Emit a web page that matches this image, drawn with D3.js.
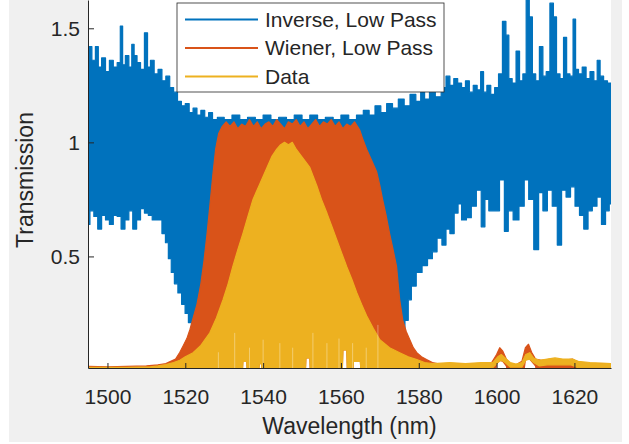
<!DOCTYPE html>
<html>
<head>
<meta charset="utf-8">
<script src="https://cdn.jsdelivr.net/npm/d3@7"></script>
<style>
  body { margin: 0; background: #fff; }
  text { font-family: "Liberation Sans", Arial, sans-serif; fill: #262626; }
</style>
</head>
<body>
<div id="chart"></div>
<script>
// ---- data (envelopes of the dense spectra) ----
let seriesNames = ["Inverse, Low Pass", "Wiener, Low Pass", "Data"];
let seriesColors = ["#0072BD", "#D95319", "#EDB120"];

let xTicks = [1500, 1520, 1540, 1560, 1580, 1600, 1620];
let yTicks = [0.5, 1, 1.5];

// Inverse, low pass: upper envelope
let invTopWl = [1495, 1495.5, 1496.5, 1497.3, 1498, 1499, 1500, 1501, 1502, 1503, 1503.6, 1504.2, 1505, 1506, 1506.5, 1507.2, 1508, 1509, 1510, 1510.6,
  1511.5, 1512.5, 1513.5, 1514.5, 1515.5, 1516.5, 1517.5, 1518.5, 1519.5, 1520.5, 1521.5, 1522.5, 1523.5, 1524.5, 1525.5, 1526.5, 1527.5, 1529, 1531, 1533,
  1535, 1537, 1539, 1541, 1543, 1545, 1547, 1549, 1551, 1553, 1555, 1557, 1559, 1561, 1563, 1565, 1566.5, 1568, 1569.5, 1571,
  1572.5, 1574, 1575.5, 1577, 1578.5, 1580, 1581, 1582, 1583.5, 1585, 1586.5, 1587.5, 1588.5, 1589.5, 1590.5, 1591.5, 1592.5, 1593.5, 1594.5, 1595.5,
  1596.3, 1597, 1598, 1599, 1600, 1601, 1602, 1602.8, 1603.5, 1604.5, 1605.5, 1606.3, 1607.2, 1608, 1608.8, 1609.6, 1610.5, 1611.5, 1612.3, 1613.2,
  1614.2, 1615, 1615.8, 1616.8, 1617.6, 1618.4, 1619.3, 1620, 1620.6, 1621.5, 1622.5, 1623.5, 1624.5, 1625.5, 1626.2, 1627, 1628, 1629, 1629.4];
let invTop = [1.25, 1.42, 1.36, 1.42, 1.33, 1.37, 1.31, 1.36, 1.33, 1.35, 1.51, 1.34, 1.38, 1.33, 1.43, 1.38, 1.35, 1.32, 1.48, 1.33,
  1.36, 1.30, 1.32, 1.27, 1.29, 1.24, 1.22, 1.18, 1.16, 1.17, 1.13, 1.15, 1.12, 1.14, 1.11, 1.13, 1.10, 1.11, 1.10, 1.12,
  1.10, 1.11, 1.10, 1.12, 1.10, 1.11, 1.10, 1.12, 1.10, 1.12, 1.10, 1.11, 1.10, 1.12, 1.10, 1.12, 1.14, 1.12, 1.16, 1.13,
  1.17, 1.15, 1.19, 1.16, 1.21, 1.18, 1.23, 1.19, 1.22, 1.20, 1.24, 1.29, 1.25, 1.28, 1.26, 1.24, 1.27, 1.22, 1.25, 1.23,
  1.31, 1.22, 1.25, 1.21, 1.24, 1.30, 1.53, 1.47, 1.28, 1.26, 1.40, 1.27, 1.30, 1.65, 1.55, 1.30, 1.27, 1.42, 1.29, 1.31,
  1.61, 1.55, 1.30, 1.28, 1.46, 1.30, 1.29, 1.54, 1.32, 1.30, 1.33, 1.28, 1.31, 1.27, 1.36, 1.29, 1.27, 1.26, 1.26];

// Inverse, low pass: lower envelope (the middle part lies hidden under the Wiener fill)
let invBotWl = [1495, 1496, 1497, 1498, 1499, 1500, 1501, 1502, 1503, 1504, 1505, 1506, 1507, 1508, 1509, 1510, 1511, 1512, 1513.5, 1514.5,
  1515.3, 1516, 1516.8, 1517.6, 1518.6, 1519.5, 1520.4, 1521.2, 1522, 1523, 1524, 1575, 1576, 1576.9, 1577.7, 1578.5, 1580.2, 1581.5, 1583, 1584,
  1585.4, 1586.5, 1587.5, 1588.5, 1589.7, 1590.5, 1591.5, 1593, 1594, 1595.6, 1596.5, 1597.5, 1598.5, 1600, 1601.5, 1602.5, 1603.5, 1605, 1606.5, 1607.7,
  1608.8, 1610.3, 1611.3, 1612.5, 1613.6, 1615, 1616.2, 1617.2, 1618.5, 1619.5, 1620.8, 1621.8, 1623, 1624, 1625.2, 1626.4, 1627.5, 1628.5, 1629.4];
let invBot = [0.64, 0.70, 0.675, 0.62, 0.68, 0.66, 0.64, 0.68, 0.675, 0.62, 0.66, 0.70, 0.62, 0.66, 0.71, 0.69, 0.68, 0.66, 0.66, 0.60,
  0.56, 0.49, 0.43, 0.38, 0.34, 0.29, 0.25, 0.21, 0.17, 0.14, 0.13, 0.13, 0.18, 0.22, 0.31, 0.37, 0.43, 0.46, 0.49, 0.52,
  0.58, 0.55, 0.62, 0.60, 0.69, 0.73, 0.66, 0.67, 0.72, 0.79, 0.63, 0.75, 0.70, 0.70, 0.835, 0.61, 0.70, 0.66, 0.72, 0.835,
  0.75, 0.53, 0.78, 0.70, 0.79, 0.72, 0.55, 0.79, 0.76, 0.805, 0.72, 0.68, 0.62, 0.70, 0.72, 0.76, 0.64, 0.70, 0.73];

// Wiener, low pass: upper envelope
let wienTopWl = [1495, 1500, 1505, 1510, 1513, 1515, 1517.5, 1518.6, 1519.5, 1520.4, 1521.2, 1522, 1523, 1524, 1524.8, 1525.6, 1526.3, 1527.1, 1527.8, 1528.6,
  1529.5, 1530.5, 1531.5, 1532.5, 1533.5, 1534.5, 1535.5, 1536.5, 1537.5, 1538.5, 1539.5, 1540.5, 1541.5, 1542.5, 1543.5, 1544.5, 1545.5, 1546.5, 1547.5, 1548.5,
  1549.5, 1550.5, 1551.5, 1552.5, 1553.5, 1554.5, 1555.5, 1556.5, 1557.5, 1558.5, 1559.5, 1560.5, 1561.5, 1562.5, 1563.5, 1564.8, 1565.7, 1566.6, 1567.9, 1569.2,
  1570, 1570.7, 1571.6, 1572.5, 1573.4, 1574.3, 1574.7, 1575.1, 1575.9, 1576.8, 1577.7, 1578.6, 1579.5, 1580.7, 1582, 1583.5, 1585.4, 1588, 1592, 1596,
  1598.5, 1600, 1600.8, 1601.6, 1602.5, 1603.5, 1605, 1606.5, 1607.4, 1608.2, 1609, 1610, 1611.5, 1614, 1617, 1619.5, 1621, 1624, 1627, 1629.4];
let wienTop = [0.018, 0.016, 0.018, 0.02, 0.025, 0.03, 0.05, 0.08, 0.11, 0.14, 0.18, 0.23, 0.29, 0.38, 0.48, 0.60, 0.72, 0.86, 0.97, 1.04,
  1.07, 1.09, 1.07, 1.09, 1.06, 1.08, 1.07, 1.10, 1.07, 1.09, 1.06, 1.08, 1.09, 1.07, 1.10, 1.08, 1.06, 1.09, 1.08, 1.10,
  1.07, 1.09, 1.06, 1.08, 1.10, 1.07, 1.09, 1.08, 1.10, 1.07, 1.09, 1.06, 1.08, 1.07, 1.09, 1.055, 1.01, 0.97, 0.92, 0.87,
  0.81, 0.75, 0.68, 0.60, 0.53, 0.455, 0.38, 0.31, 0.22, 0.17, 0.135, 0.10, 0.078, 0.06, 0.048, 0.035, 0.028, 0.03, 0.028, 0.03,
  0.028, 0.07, 0.10, 0.085, 0.05, 0.03, 0.025, 0.04, 0.10, 0.115, 0.08, 0.05, 0.045, 0.05, 0.045, 0.05, 0.035, 0.03, 0.03, 0.028];

// Wiener, low pass: lower envelope (notches at the foot, lifts off at the two bumps)
let wienBotWl = [1495, 1534.6, 1534.8, 1535.8, 1536, 1538.8, 1539, 1539.6, 1539.8, 1550.8, 1551, 1552, 1552.2, 1560.3, 1560.5, 1561.5, 1561.7, 1563, 1563.2, 1565,
  1565.2, 1599.5, 1600, 1600.8, 1601.6, 1602.5, 1603.2, 1606.8, 1607.4, 1608.2, 1609, 1610, 1610.6, 1629.4];
let wienBot = [0, 0, 0.04, 0.04, 0, 0, 0.03, 0.03, 0, 0, 0.055, 0.055, 0, 0, 0.09, 0.09, 0, 0, 0.04, 0.04,
  0, 0, 0.03, 0.045, 0.04, 0.02, 0, 0, 0.045, 0.055, 0.04, 0.02, 0, 0];

// Data: upper envelope
let dataTopWl = [1495, 1505, 1511, 1513, 1515, 1517, 1518.6, 1520, 1522, 1524, 1526.3, 1528, 1529.7, 1531, 1532.2, 1533.5, 1534.8, 1536, 1537.4, 1539.2,
  1541, 1542.3, 1543.5, 1544.5, 1545.5, 1546.5, 1547.5, 1548.5, 1549.4, 1550.7, 1552, 1553.8, 1555, 1556.4, 1557.7, 1559, 1560.3, 1561.5, 1562.8, 1564.1,
  1565.3, 1566.6, 1568.3, 1570, 1572.5, 1575.1, 1577.3, 1579.5, 1581.5, 1583.6, 1588, 1592, 1596, 1599, 1600.3, 1601.2, 1602.2, 1603.5, 1605, 1606.5,
  1607.5, 1608.5, 1609.5, 1611, 1613, 1615, 1617, 1619.5, 1621, 1624, 1627, 1629.4];
let dataTop = [0.014, 0.014, 0.016, 0.02, 0.026, 0.035, 0.045, 0.06, 0.078, 0.11, 0.165, 0.23, 0.31, 0.38, 0.455, 0.53, 0.60, 0.67, 0.75, 0.82,
  0.89, 0.94, 0.97, 0.99, 1.0, 0.99, 1.0, 0.97, 0.95, 0.92, 0.89, 0.81, 0.75, 0.69, 0.63, 0.57, 0.51, 0.455, 0.40, 0.34,
  0.29, 0.24, 0.185, 0.135, 0.10, 0.078, 0.06, 0.048, 0.035, 0.03, 0.035, 0.03, 0.035, 0.035, 0.06, 0.07, 0.055, 0.035, 0.028, 0.035,
  0.07, 0.078, 0.055, 0.045, 0.05, 0.055, 0.05, 0.05, 0.04, 0.035, 0.032, 0.03];

// Data: lower envelope (white notches at the foot and the line lifting off at the far right)
let dataBotWl = [1495, 1534.6, 1534.8, 1535.8, 1536, 1538.8, 1539, 1539.6, 1539.8, 1550.8, 1551, 1552, 1552.2, 1560.3, 1560.5, 1561.5, 1561.7, 1563, 1563.2, 1565,
  1565.2, 1599, 1600.3, 1601.2, 1602.2, 1603.5, 1606.5, 1607.5, 1608.5, 1609.5, 1611, 1613, 1619, 1621, 1629.4];
let dataBot = [0, 0, 0.04, 0.04, 0, 0, 0.03, 0.03, 0, 0, 0.055, 0.055, 0, 0, 0.09, 0.09, 0, 0, 0.04, 0.04,
  0, 0.012, 0.035, 0.045, 0.035, 0.015, 0.015, 0.045, 0.05, 0.035, 0.02, 0.025, 0.025, 0.012, 0.012];

// thin light streaks inside the Data fill: [wavelength, height]
let dataStreakWl = [1528.5, 1532.7, 1536.5, 1540, 1544.3, 1547.6, 1552.8, 1556.4, 1559.5, 1563, 1566.5, 1569.5];
let dataStreakH = [0.08, 0.165, 0.10, 0.135, 0.12, 0.10, 0.165, 0.12, 0.14, 0.12, 0.10, 0.2];

// ---- layout ----
let W = 629, H = 444;
let plotL = 88, plotR = 611, plotT = 0, plotB = 368;

let svg = d3.select("#chart").append("svg")
  .attr("width", W)
  .attr("height", H);

svg.append("rect").attr("x", 9).attr("y", 0).attr("width", 613).attr("height", 442).attr("fill", "#f0f0f0");
svg.append("rect").attr("x", plotL).attr("y", plotT).attr("width", plotR - plotL).attr("height", plotB - plotT).attr("fill", "#fff");

let x = d3.scaleLinear().domain([1495, 1629.4]).range([plotL, plotR]);
let y = d3.scaleLinear().domain([0.011, 1.624]).range([plotB, plotT]);

svg.append("clipPath").attr("id", "plotclip")
  .append("rect").attr("x", plotL).attr("y", plotT).attr("width", plotR - plotL).attr("height", plotB - plotT);

let plot = svg.append("g").attr("clip-path", "url(#plotclip)");

// band polygon: upper envelope forward, lower envelope back
function band(topWl, topV, botWl, botV) {
  let pts = topWl.map((w, i) => [w, topV[i]]);
  let back = botWl.map((w, i) => [w, botV[i]]).reverse();
  return pts.concat(back);
}

let stepLine = d3.line().x(d => x(d[0])).y(d => y(d[1])).curve(d3.curveStep);
let plainLine = d3.line().x(d => x(d[0])).y(d => y(d[1]));

// lower envelopes sitting on zero are pushed a little below the axis so the fill reaches it
let bands = [
  { pts: band(invTopWl, invTop, invBotWl, invBot), gen: stepLine },
  { pts: band(wienTopWl, wienTop, wienBotWl, wienBot.map(v => v > 0 ? v : -0.03)), gen: plainLine },
  { pts: band(dataTopWl, dataTop, dataBotWl, dataBot.map(v => v > 0 ? v : -0.03)), gen: plainLine }
];

plot.selectAll("path.band")
  .data(bands)
  .enter()
  .append("path")
  .attr("class", "band")
  .attr("d", d => d.gen(d.pts) + "Z")
  .attr("fill", (d, i) => seriesColors[i])
  .attr("stroke", (d, i) => seriesColors[i])
  .attr("stroke-width", 1.2)
  .attr("stroke-linejoin", "round");

plot.selectAll("line.streak")
  .data(dataStreakWl)
  .enter()
  .append("line")
  .attr("class", "streak")
  .attr("x1", d => x(d))
  .attr("x2", d => x(d))
  .attr("y1", y(0.011))
  .attr("y2", (d, i) => y(dataStreakH[i]))
  .attr("stroke", "#fff")
  .attr("stroke-opacity", 0.45)
  .attr("stroke-width", 0.8);

// ---- axes ----
let xAxis = d3.axisBottom(x)
  .tickValues(xTicks)
  .tickFormat(d3.format("d"))
  .tickSizeInner(-5)
  .tickSizeOuter(0)
  .tickPadding(21);

let yAxis = d3.axisLeft(y)
  .tickValues(yTicks)
  .tickFormat(d => String(d))
  .tickSizeInner(-6)
  .tickSizeOuter(0)
  .tickPadding(8);

let gx = svg.append("g").attr("transform", "translate(0," + plotB + ")").call(xAxis);
let gy = svg.append("g").attr("transform", "translate(" + plotL + ",0)").call(yAxis);

[gx, gy].forEach(g => {
  g.select(".domain").attr("stroke", "#262626").attr("stroke-width", 1);
  g.selectAll(".tick line").attr("stroke", "#262626");
  g.selectAll(".tick text")
    .style("font-family", "'Liberation Sans', Arial, sans-serif")
    .style("font-size", "21px")
    .attr("fill", "#262626");
});
gx.selectAll(".tick text").attr("dy", "0.71em");

svg.append("text")
  .attr("x", (plotL + plotR) / 2)
  .attr("y", 434)
  .attr("text-anchor", "middle")
  .style("font-size", "23px")
  .text("Wavelength (nm)");

svg.append("text")
  .attr("transform", "translate(33," + ((plotT + plotB) / 2 - 4) + ") rotate(-90)")
  .attr("text-anchor", "middle")
  .style("font-size", "23px")
  .text("Transmission");

// ---- legend ----
let legend = svg.append("g");
legend.append("rect")
  .attr("x", 177).attr("y", 3).attr("width", 267).attr("height", 89)
  .attr("fill", "#fff")
  .attr("stroke", "#262626")
  .attr("stroke-width", 0.8);

let rows = legend.selectAll("g.row")
  .data(seriesNames)
  .enter()
  .append("g")
  .attr("class", "row")
  .attr("transform", (d, i) => "translate(0," + (19.5 + i * 28.5) + ")");

rows.append("line")
  .attr("x1", 185).attr("x2", 258)
  .attr("y1", 0).attr("y2", 0)
  .attr("stroke", (d, i) => seriesColors[i])
  .attr("stroke-width", 2.2);

rows.append("text")
  .attr("x", 265)
  .attr("y", 0)
  .attr("dy", "0.35em")
  .style("font-size", "21px")
  .text(d => d);
</script>
</body>
</html>
